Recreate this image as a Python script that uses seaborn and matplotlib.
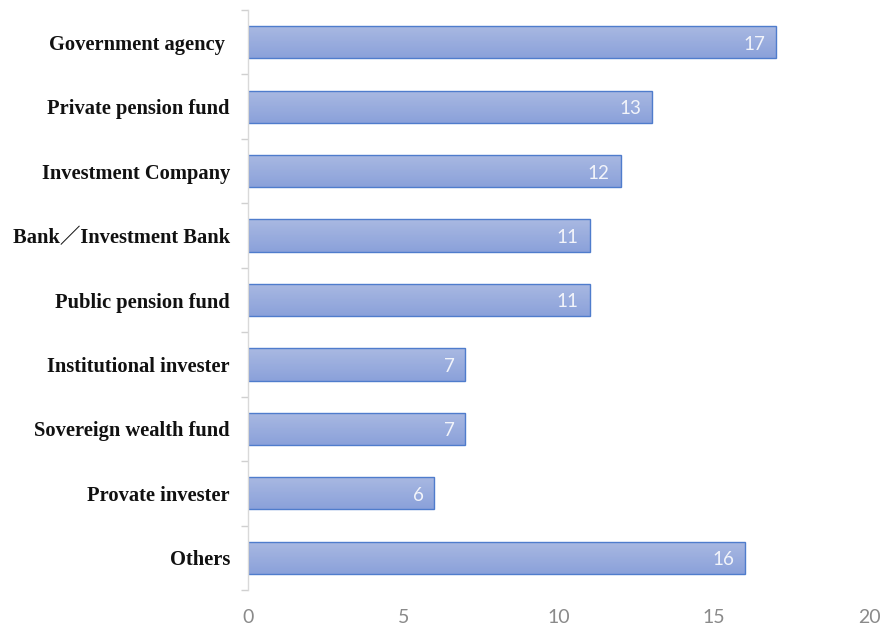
import numpy as np
import pandas as pd
import matplotlib
matplotlib.use("Agg")
import matplotlib.pyplot as plt
import seaborn as sns
from matplotlib.colors import LinearSegmentedColormap

categories = [
    "Government agency ",
    "Private pension fund",
    "Investment Company",
    "Bank／Investment Bank",
    "Public pension fund",
    "Institutional invester",
    "Sovereign wealth fund",
    "Provate invester",
    "Others",
]
counts = [17, 13, 12, 11, 11, 7, 7, 6, 16]
x_ticks = [0, 5, 10, 15, 20]

df = pd.DataFrame({"category": categories, "count": counts})

sns.set_theme(style="white")
plt.rcParams["font.family"] = ["Lato", "DejaVu Sans"]

fig = plt.figure(figsize=(8.85, 6.26), dpi=100)
ax = fig.add_axes([0.2802, 0.0575, 0.7018, 0.9265])

sns.barplot(data=df, y="category", x="count", orient="h", ax=ax,
            color="#9fb0de", edgecolor="#4f7ccc", linewidth=1.0, width=0.5,
            saturation=1)

# vertical gradient fill inside each bar
grad = LinearSegmentedColormap.from_list("bar", ["#aab9e2", "#8aa1da"])
gimg = np.linspace(0, 1, 64).reshape(-1, 1)
for patch in ax.patches:
    x0, y0 = patch.get_x(), patch.get_y()
    w, h = patch.get_width(), patch.get_height()
    im = ax.imshow(gimg, cmap=grad, aspect="auto", interpolation="bicubic",
                   extent=[x0, x0 + w, y0 + h, y0], zorder=patch.get_zorder() + 0.1)
    im.set_clip_path(patch)
    patch.set_facecolor("none")
    patch.set_zorder(patch.get_zorder() + 0.2)

# value labels inside bar ends
for i, v in enumerate(counts):
    ax.text(v - 0.35, i + 0.03, str(v), ha="right", va="center", color="#f2f4fa",
            fontsize=13.5, zorder=5)

ax.set_xlim(0, 20)
ax.set_ylim(len(categories) - 0.5, -0.5)
ax.set_xticks(x_ticks)
ax.set_xticklabels([str(t) for t in x_ticks], color="#8a8a8a", fontsize=14)
ax.tick_params(axis="x", length=0, pad=14)

ax.set_yticks(range(len(categories)))
ax.set_yticklabels(categories)
for lbl in ax.get_yticklabels():
    lbl.set_fontfamily(["Liberation Serif", "Noto Sans CJK JP"])
    lbl.set_fontweight("bold")
    lbl.set_fontsize(14.8)
    lbl.set_color("#111111")
ax.tick_params(axis="y", length=0, pad=13)
ax.set_yticks(np.arange(-0.5, len(categories), 1.0), minor=True)
ax.tick_params(axis="y", which="minor", length=5, color="#d0d0d0", width=1, left=True)

ax.set_xlabel("")
ax.set_ylabel("")
for s in ["top", "right", "bottom"]:
    ax.spines[s].set_visible(False)
ax.spines["left"].set_color("#d9d9d9")
ax.spines["left"].set_linewidth(1)
ax.grid(False)

fig.savefig("out.png", dpi=100, facecolor="white")
